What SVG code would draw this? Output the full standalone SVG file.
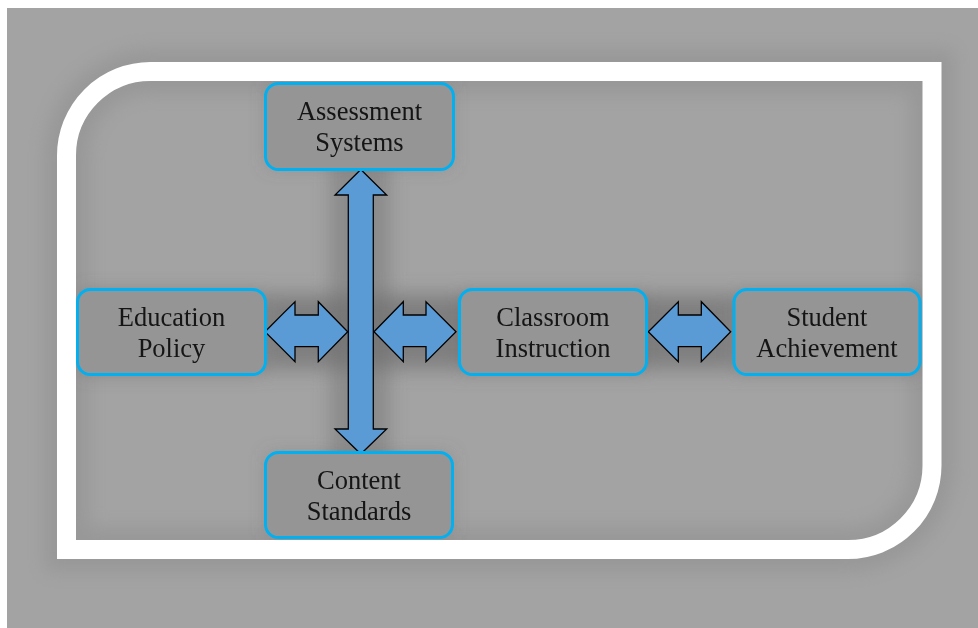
<svg xmlns="http://www.w3.org/2000/svg" width="978" height="628" viewBox="0 0 978 628">
  <defs>
    <filter id="soft" x="-20%" y="-20%" width="140%" height="140%">
      <feGaussianBlur stdDeviation="9"/>
    </filter>
    <style>
      .box { fill: #959595; stroke: #00b0f0; stroke-width: 3; }
      .arrow { fill: #5b9bd5; stroke: #000; stroke-width: 1.3; stroke-linejoin: miter; }
      .label { font-family: "Liberation Serif", "Times New Roman", serif; font-size: 26.5px; fill: #151515; text-anchor: middle; }
      .shade { fill: #6e6e6e; opacity: 0.45; }
    </style>
  </defs>

  <!-- page -->
  <rect x="0" y="0" width="978" height="628" fill="#ffffff"/>
  <rect x="7" y="8" width="971" height="620" fill="#a3a3a3"/>

  <!-- soft shading around the frame -->
  <path d="M 66.5 549.5 L 66.5 155.5 A 84 84 0 0 1 150.5 71.5 L 932 71.5 L 932 465.5 A 84 84 0 0 1 848 549.5 Z"
        fill="none" stroke="#8a8a8a" stroke-width="44" opacity="0.45" filter="url(#soft)"/>

  <!-- soft shading behind the diagram -->
  <g filter="url(#soft)">
    <rect x="80" y="292" width="840" height="80" class="shade" opacity="0.25"/>
    <rect x="330" y="90" width="60" height="440" class="shade" opacity="0.35"/>
    <rect x="268" y="86" width="182" height="80" class="shade"/>
    <rect x="81" y="293" width="182" height="80" class="shade"/>
    <rect x="462" y="292" width="182" height="80" class="shade"/>
    <rect x="737" y="292" width="180" height="80" class="shade"/>
    <rect x="268" y="455" width="182" height="80" class="shade"/>
    <rect x="270" y="300" width="460" height="62" class="shade" opacity="0.35"/>
  </g>

  <!-- frame -->
  <path d="M 66.5 549.5 L 66.5 155.5 A 84 84 0 0 1 150.5 71.5 L 932 71.5 L 932 465.5 A 84 84 0 0 1 848 549.5 Z"
        fill="none" stroke="#ffffff" stroke-width="19" stroke-linejoin="miter"/>

  <!-- connectors -->
  <g id="connectors">
    <!-- vertical double arrow: Assessment Systems / Content Standards -->
    <polygon class="arrow" points="360.8,169.5 386.7,195 373.3,195 373.3,429 386.7,429 360.8,454 335,429 348.3,429 348.3,195 335,195"/>
    <!-- Education Policy <-> vertical arrow -->
    <polygon class="arrow" points="265,331.7 295,301.7 295,315 318.3,315 318.3,301.7 347.7,331.7 318.3,361.7 318.3,346.7 295,346.7 295,361.7"/>
    <!-- vertical arrow <-> Classroom Instruction -->
    <polygon class="arrow" points="374,331.7 403.3,301.7 403.3,315 426,315 426,301.7 456,331.7 426,361.7 426,346.7 403.3,346.7 403.3,361.7"/>
    <!-- Classroom Instruction <-> Student Achievement -->
    <polygon class="arrow" points="648.3,331.7 678.3,301.7 678.3,315 701.3,315 701.3,301.7 730.7,331.7 701.3,361.7 701.3,346.7 678.3,346.7 678.3,361.7"/>
  </g>

  <!-- nodes -->
  <g id="assessment-systems">
    <rect class="box" x="265.5" y="83.5" width="188" height="86" rx="13"/>
    <text class="label" x="359.5" y="120">Assessment</text>
    <text class="label" x="359.5" y="151">Systems</text>
  </g>
  <g id="education-policy">
    <rect class="box" x="77.5" y="289.5" width="188" height="85" rx="13"/>
    <text class="label" x="171.5" y="326">Education</text>
    <text class="label" x="171.5" y="357">Policy</text>
  </g>
  <g id="classroom-instruction">
    <rect class="box" x="459.5" y="289.5" width="187" height="85" rx="13"/>
    <text class="label" x="553" y="326">Classroom</text>
    <text class="label" x="553" y="357">Instruction</text>
  </g>
  <g id="student-achievement">
    <rect class="box" x="734" y="289.5" width="186" height="85" rx="13"/>
    <text class="label" x="827" y="326">Student</text>
    <text class="label" x="827" y="357">Achievement</text>
  </g>
  <g id="content-standards">
    <rect class="box" x="265.5" y="452.5" width="187" height="85" rx="13"/>
    <text class="label" x="359" y="489">Content</text>
    <text class="label" x="359" y="520">Standards</text>
  </g>
</svg>
